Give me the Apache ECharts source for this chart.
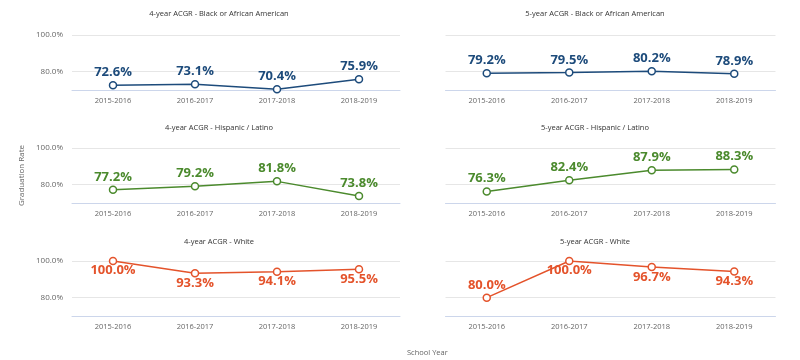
<!DOCTYPE html>
<html>
<head>
<meta charset="utf-8">
<script src="https://cdn.jsdelivr.net/npm/echarts@6/dist/echarts.min.js"></script>
<style>
html,body{margin:0;padding:0;background:#fff;}
#chart{width:800px;height:360px;}
</style>
</head>
<body>
<div id="chart"></div>
<script>
const categories = ['2015-2016', '2016-2017', '2017-2018', '2018-2019'];
const black4 = [72.6, 73.1, 70.4, 75.9];
const black5 = [79.2, 79.5, 80.2, 78.9];
const hisp4 = [77.2, 79.2, 81.8, 73.8];
const hisp5 = [76.3, 82.4, 87.9, 88.3];
const white4 = [100.0, 93.3, 94.1, 95.5];
const white5 = [80.0, 100.0, 96.7, 94.3];
const panelTitles = [
  '4-year ACGR - Black or African American', '5-year ACGR - Black or African American',
  '4-year ACGR - Hispanic / Latino', '5-year ACGR - Hispanic / Latino',
  '4-year ACGR - White', '5-year ACGR - White'
];
const yTicks = [80, 100];

const FONT = 'Open Sans';
const navy = '#1d4b7b', green = '#4b8a2d', orange = '#e4532b';
const panels = [
  {data: black4, color: navy}, {data: black5, color: navy},
  {data: hisp4, color: green}, {data: hisp5, color: green},
  {data: white4, color: orange}, {data: white5, color: orange}
];
const rowTops = [35, 148, 261];
const plotH = 55;
const colLeft = [72, 445.5], colW = [328, 330];
const titleX = [219, 595];
const titleY = [10, 124, 238];

const grid = [], xAxis = [], yAxis = [], series = [], title = [];
panels.forEach((p, i) => {
  const r = Math.floor(i / 2), c = i % 2;
  grid.push({left: colLeft[c], top: rowTops[r], width: colW[c], height: plotH, containLabel: false});
  title.push({
    text: panelTitles[i], left: titleX[c], top: titleY[r], textAlign: 'center', padding: 0,
    textStyle: {fontFamily: FONT, fontSize: 7.5, fontWeight: 'normal', color: '#333'}
  });
  xAxis.push({
    type: 'category', gridIndex: i, data: categories, boundaryGap: true,
    axisTick: {show: false},
    axisLine: {lineStyle: {color: '#ccd6eb', width: 1}},
    axisLabel: {fontFamily: FONT, fontSize: 7.5, color: '#666', margin: 7}
  });
  const ya = {
    type: 'value', gridIndex: i, min: 70, max: 100, interval: 10,
    axisLine: {show: false}, axisTick: {show: false},
    splitLine: {show: true, lineStyle: {color: ['rgba(0,0,0,0)', '#e6e6e6'], width: 1}},
    axisLabel: {
      show: c === 0, fontFamily: FONT, fontSize: 8, color: '#666', margin: 9,
      formatter: v => yTicks.indexOf(v) >= 0 ? v.toFixed(1) + '%' : ''
    }
  };
  if (i === 2) {
    ya.name = 'Graduation Rate';
    ya.nameLocation = 'middle';
    ya.nameGap = 46;
    ya.nameTextStyle = {fontFamily: FONT, fontSize: 8, color: '#666'};
  }
  yAxis.push(ya);
  series.push({
    type: 'line', xAxisIndex: i, yAxisIndex: i,
    data: p.data.map(v => ({
      value: v,
      label: {position: v > 90 ? 'bottom' : 'top', distance: v > 90 ? -1 : 2}
    })),
    symbol: 'circle', symbolSize: 7, showAllSymbol: true,
    lineStyle: {color: p.color, width: 1.5},
    itemStyle: {color: '#fff', borderColor: p.color, borderWidth: 1.5},
    label: {
      show: true, fontFamily: FONT, fontSize: 13, fontWeight: 'bold', color: p.color,
      formatter: d => d.value.toFixed(1) + '%'
    },
    emphasis: {disabled: true},
    animation: false
  });
});

const chart = echarts.init(document.getElementById('chart'), null, {renderer: 'canvas'});
chart.setOption({
  backgroundColor: '#fff',
  animation: false,
  title, grid, xAxis, yAxis, series,
  graphic: [{
    type: 'text', left: 407, top: 349,
    style: {text: 'School Year', font: '7.5px "Open Sans"', fill: '#666', textAlign: 'center'}
  }]
});
</script>
</body>
</html>
